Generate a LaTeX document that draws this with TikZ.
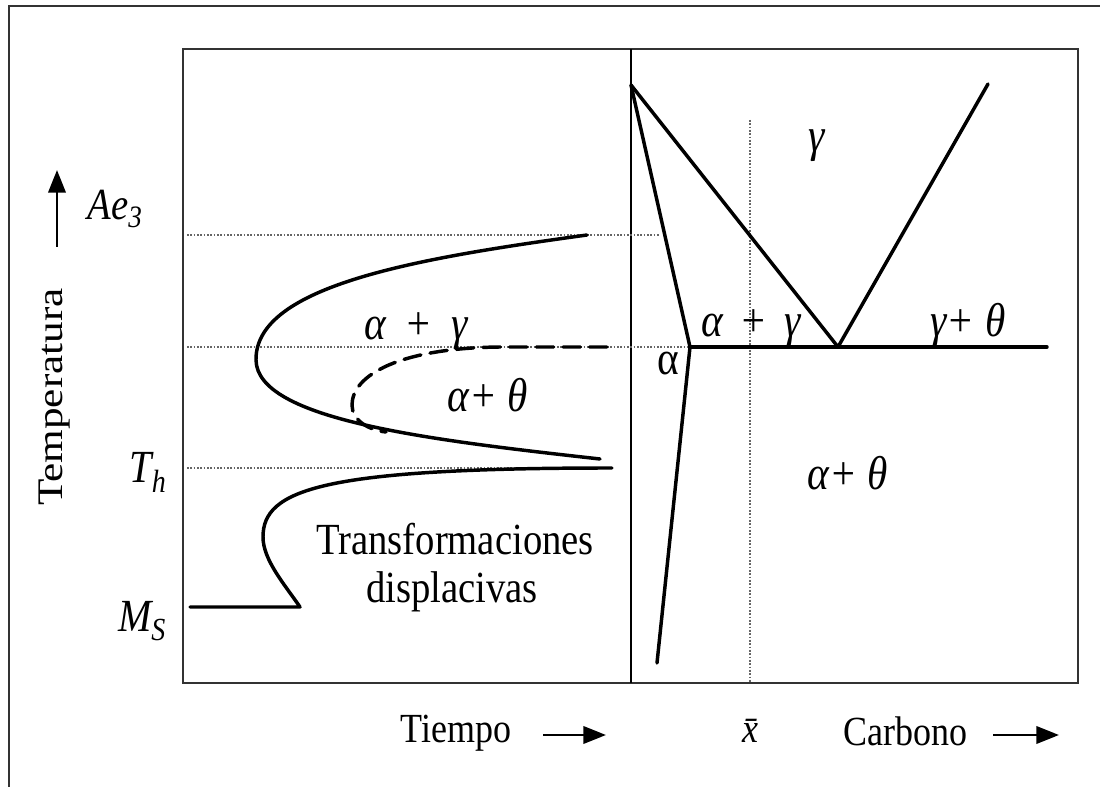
\documentclass[tikz,border=0pt]{standalone}
\usepackage{fontspec}
\setmainfont{Liberation Serif}
\usepackage{graphicx}
\usetikzlibrary{arrows.meta}
\newcommand\vst[1]{\scalebox{1}[1.15]{#1}}
\begin{document}
\begin{tikzpicture}[x=0.75pt,y=-0.75pt,
  frame/.style={line width=1.4pt,draw=black!80},
  curve/.style={line width=2.6pt,line cap=round,line join=round},
  guide/.style={line width=0.8pt,draw=black!60,dash pattern=on 1.2pt off 1.3pt},
  lbl/.style={inner sep=0pt,anchor=base,font=\fontsize{27}{32}\selectfont},
  glbl/.style={lbl,font=\fontsize{31}{36}\selectfont},
  axarrow/.style={line width=2pt,-{Triangle[length=17pt,width=13pt]}}]
\useasboundingbox (0,0) rectangle (1100,787);
\fill[white] (0,0) rectangle (1100,787);
% frames
\draw[frame] (9,787) -- (9,6) -- (1100,6);
\coordinate (fnw) at (183,49);
\coordinate (fse) at (1078,683);
\draw[frame] (fnw) rectangle (fse);
\coordinate (dtop) at (631,49);
\coordinate (dbot) at (631,683);
\draw[line width=1.2pt] (dtop) -- (dbot);
% guide lines
\coordinate (gA1) at (187,235); \coordinate (gA2) at (660,235);
\coordinate (gE1) at (187,347); \coordinate (gE2) at (690,347);
\coordinate (gT1) at (187,468); \coordinate (gT2) at (612,468);
\coordinate (gX1) at (750,120); \coordinate (gX2) at (750,683);
\draw[guide] (gA1) -- (gA2);
\draw[guide] (gE1) -- (gE2);
\draw[guide] (gT1) -- (gT2);
\draw[guide] (gX1) -- (gX2);
% left: TTT curves
\draw[curve] (587,235) .. controls (420,258) and (255,285) .. (256,360)
  .. controls (257,420) and (430,440) .. (600,459);
\draw[curve,dash pattern=on 13pt off 7pt] (607,347) -- (500,347)
  .. controls (400,348) and (352,375) .. (352,405)
  .. controls (352,420) and (368,430) .. (386,432);
\draw[curve] (612,468) .. controls (320,468) and (263,490) .. (263,537)
  .. controls (263,560) and (285,585) .. (300,607) -- (190,607);
% right: phase diagram
\coordinate (top) at (631,85);
\coordinate (eut) at (838,347);
\coordinate (acm) at (988,84);
\coordinate (av) at (690,347);
\coordinate (ab) at (657,663);
\coordinate (he) at (1047,347);
\draw[curve] (top) -- (eut) -- (acm);
\draw[curve] (top) -- (av) -- (ab);
\draw[curve] (av) -- (he);
% axis arrows
\coordinate (ua1) at (57,247); \coordinate (ua2) at (57,170);
\draw[axarrow] (ua1) -- (ua2);
\coordinate (ta1) at (543,735); \coordinate (ta2) at (606,735);
\draw[axarrow] (ta1) -- (ta2);
\coordinate (ca1) at (993,735); \coordinate (ca2) at (1059,735);
\draw[axarrow] (ca1) -- (ca2);
% labels
\node[lbl,font=\fontsize{29}{34}\selectfont] (ae3) at (115,220) {\vst{\itshape Ae\textsubscript{3}}};
\node[inner sep=0pt,rotate=90,font=\fontsize{27}{32}\selectfont] (temp) at (55,397) {\scalebox{1.2}[1]{Temperatura}};
\node[lbl,font=\fontsize{30}{34}\selectfont] (th) at (148,483) {\vst{\itshape T\textsubscript{h}}};
\node[lbl,font=\fontsize{30}{34}\selectfont] (ms) at (142,632) {\vst{\itshape M\textsubscript{S}}};
\node[glbl] (lag) at (416,340) {\vst{\itshape α\hspace{0.45em}+\hspace{0.45em}γ}};
\node[glbl] (lat) at (488,412) {\vst{\itshape α+ θ}};
\node[lbl,font=\fontsize{29}{34}\selectfont] (tr1) at (455,555) {\vst{Transformaciones}};
\node[lbl,font=\fontsize{29}{34}\selectfont] (tr2) at (452,603) {\vst{displacivas}};
\node[lbl] (tiempo) at (456,742) {\vst{Tiempo}};
\node[lbl] (xbar) at (750,742) {\vst{\itshape \={x}}};
\node[lbl] (carb) at (905,745) {\vst{Carbono}};
\node[glbl] (rg) at (817,152) {\vst{\itshape γ}};
\node[glbl] (rag) at (751,337) {\vst{\itshape α\hspace{0.4em}+\hspace{0.4em}γ}};
\node[glbl] (rgt) at (968,337) {\vst{\itshape γ+ θ}};
\node[glbl] (ra) at (668,375) {\vst{α}};
\node[glbl] (rat) at (848,490) {\vst{\itshape α+ θ}};
\end{tikzpicture}
\end{document}
